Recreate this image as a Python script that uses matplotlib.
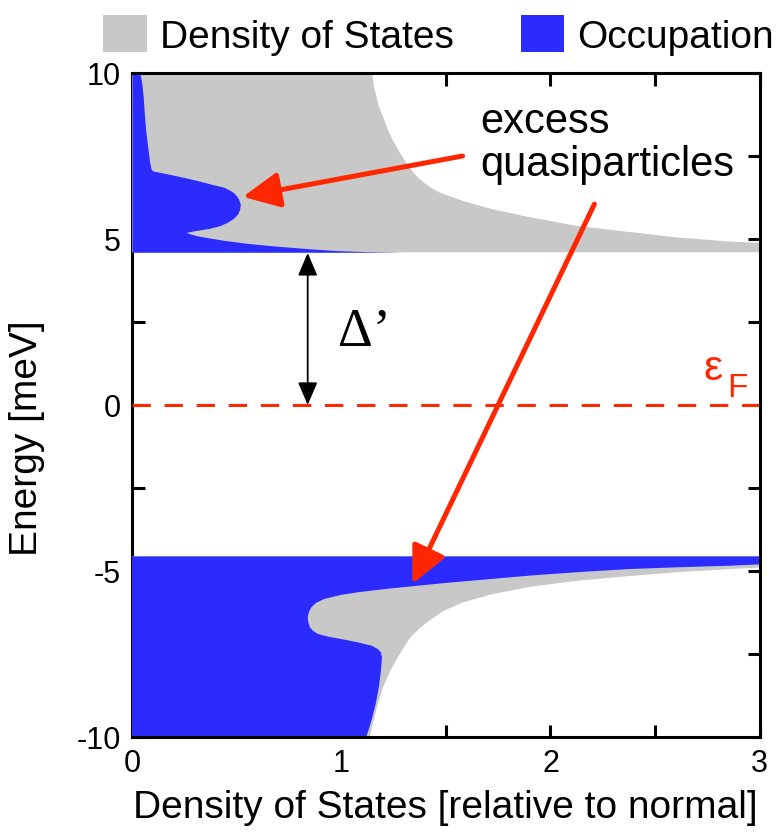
import matplotlib
matplotlib.use("Agg")
import matplotlib.pyplot as plt
from matplotlib.patches import Patch
from matplotlib.ticker import MultipleLocator

plt.rcParams['font.family'] = ['Liberation Sans', 'DejaVu Sans']
plt.rcParams['axes.unicode_minus'] = False

# density of states, upper band (E > 0)
E_dos_up = [4.60, 4.68, 4.80, 4.92, 5.05, 5.21, 5.40, 5.66, 5.90, 6.15, 6.40, 6.56,
            6.80, 7.00, 7.26, 7.60, 8.00, 8.26, 8.60, 9.00, 9.50, 10.0]
dos_up = [6.0, 4.0, 3.3, 2.86, 2.60, 2.38, 2.12, 1.90, 1.72, 1.58, 1.47, 1.425,
          1.375, 1.345, 1.315, 1.28, 1.245, 1.225, 1.205, 1.18, 1.16, 1.147]

# occupation, upper band (the excess quasiparticles)
E_occ_up = [4.60, 4.62, 4.65, 4.70, 4.75, 4.80, 4.87, 4.95, 5.03, 5.10, 5.16, 5.20,
            5.25, 5.32, 5.40, 5.50, 5.62, 5.75, 5.90, 6.05, 6.20, 6.30, 6.40, 6.48,
            6.56, 6.65, 6.75, 6.86, 6.96, 7.05, 7.10, 7.30, 7.80, 8.26, 8.80, 9.27,
            9.70, 10.0]
occ_up = [1.30, 1.12, 0.98, 0.86, 0.76, 0.66, 0.55, 0.45, 0.37, 0.31, 0.275, 0.26,
          0.30, 0.37, 0.42, 0.455, 0.485, 0.505, 0.515, 0.518, 0.51, 0.50, 0.485, 0.465,
          0.44, 0.38, 0.32, 0.245, 0.17, 0.10, 0.092, 0.085, 0.075, 0.066, 0.059, 0.054,
          0.047, 0.038]

# density of states, lower band (E < 0)
E_dos_dn = [-4.56, -4.68, -4.80, -4.94, -5.04, -5.15, -5.30, -5.48, -5.70, -5.95, -6.20,
            -6.50, -6.75, -7.00, -7.50, -8.00, -8.50, -9.00, -9.50, -10.0]
dos_dn = [6.0, 4.0, 3.3, 2.86, 2.60, 2.38, 2.12, 1.90, 1.72, 1.58, 1.49,
          1.42, 1.37, 1.33, 1.28, 1.235, 1.20, 1.175, 1.155, 1.137]

# occupation, lower band (holes left behind)
E_occ_dn = [-4.56, -4.80, -4.84, -4.89, -4.94, -5.04, -5.14, -5.25, -5.36, -5.46, -5.55,
            -5.64, -5.72, -5.84, -5.96, -6.09, -6.25, -6.39, -6.55, -6.69, -6.80, -6.90,
            -6.98, -7.05, -7.15, -7.25, -7.35, -7.45, -7.60, -8.00, -8.50, -9.00, -9.50, -10.0]
occ_dn = [6.0, 3.0, 2.86, 2.60, 2.38, 2.12, 1.90, 1.70, 1.50, 1.34, 1.20,
          1.08, 1.00, 0.92, 0.88, 0.858, 0.845, 0.84, 0.843, 0.85, 0.865, 0.89,
          0.94, 1.00, 1.08, 1.145, 1.175, 1.19, 1.195, 1.19, 1.18, 1.165, 1.145, 1.12]

gap = 4.58
grey = '#c8c8c8'
blue = '#2b2bff'
red = '#ff2600'

fig = plt.figure(figsize=(7.76, 8.37), dpi=100)
ax = fig.add_axes([0.170, 0.1183, 0.809, 0.7933])

ax.fill_betweenx(E_dos_up, 0, dos_up, color=grey, lw=0, zorder=3)
ax.fill_betweenx(E_dos_dn, 0, dos_dn, color=grey, lw=0, zorder=3)
ax.fill_betweenx(E_occ_up, 0, occ_up, color=blue, lw=0, zorder=3.1)
ax.fill_betweenx(E_occ_dn, 0, occ_dn, color=blue, lw=0, zorder=3.1)

# Fermi level
ax.axhline(0, color=red, lw=2.2, dashes=(6, 4.5), zorder=4)

# gap arrow
ax.annotate('', xy=(0.84, gap), xytext=(0.84, 0),
            arrowprops=dict(arrowstyle='<|-|>,head_length=0.7,head_width=0.3',
                            mutation_scale=20, color='black', lw=1.3,
                            shrinkA=0, shrinkB=0), zorder=5)
ax.text(0.984, 1.81, 'Δ’', family=['Liberation Serif', 'DejaVu Serif'],
        fontsize=39, ha='left', va='baseline', zorder=5)

ax.text(2.73, 0.78, 'ε', color=red, fontsize=31, ha='left', va='baseline', zorder=5)
ax.text(2.847, 0.27, 'F', color=red, fontsize=24, ha='left', va='baseline', zorder=5)

# excess quasiparticles
ax.text(1.663, 7.9, 'excess\nquasiparticles', fontsize=30, ha='left', va='center',
        linespacing=1.1, zorder=5)
red_arrow = dict(arrowstyle='-|>,head_length=0.75,head_width=0.36', mutation_scale=30,
                 color=red, lw=3.6, shrinkA=0, shrinkB=0)
ax.annotate('', xy=(0.53, 6.27), xytext=(1.58, 7.5), arrowprops=red_arrow, zorder=6)
ax.annotate('', xy=(1.34, -5.39), xytext=(2.21, 6.05), arrowprops=red_arrow, zorder=6)

ax.set_xlim(0, 3)
ax.set_ylim(-10, 10)
ax.xaxis.set_major_locator(MultipleLocator(1))
ax.xaxis.set_minor_locator(MultipleLocator(0.5))
ax.yaxis.set_major_locator(MultipleLocator(5))
ax.yaxis.set_minor_locator(MultipleLocator(2.5))
ax.tick_params(which='both', direction='in', top=True, right=True, width=2.2,
               length=9, labelsize=22, pad=8)
for name, s in ax.spines.items():
    s.set_linewidth(2.2)
    if name != 'left':
        s.set_zorder(5)

ax.set_xlabel('Density of States [relative to normal]', fontsize=28, labelpad=8)
ax.set_ylabel('Energy [meV]', fontsize=28)
ax.yaxis.set_label_coords(-0.139, 0.452)

handles = [Patch(facecolor=grey, edgecolor='none'), Patch(facecolor=blue, edgecolor='none')]
fig.legend(handles, ['Density of States', 'Occupation'], loc='center',
           bbox_to_anchor=(0.565, 0.957), ncol=2, frameon=False, fontsize=28,
           handlelength=1.13, handleheight=1.1, handletextpad=0.33, columnspacing=1.72)

fig.savefig('out.png', dpi=100)
